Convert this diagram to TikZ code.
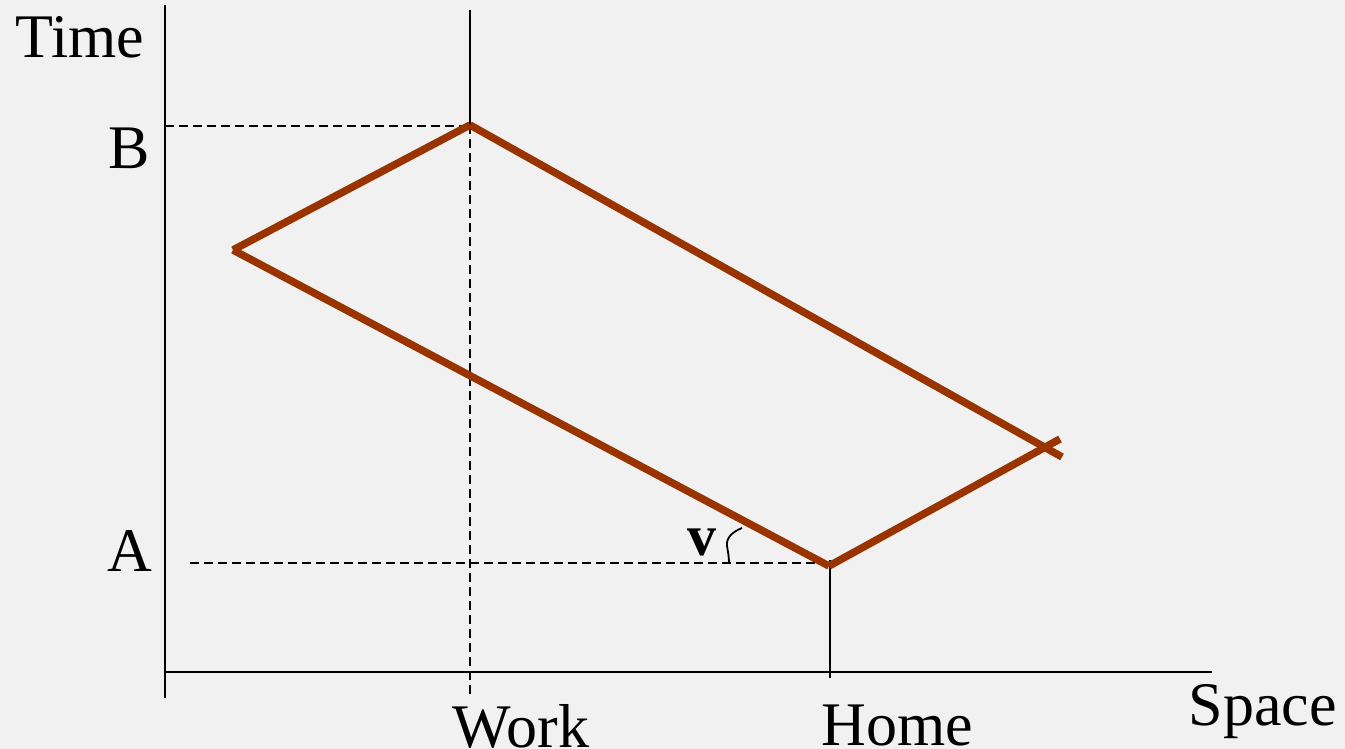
\documentclass[tikz,border=0pt]{standalone}
\usepackage{fontspec}
\setmainfont{Liberation Serif}
\definecolor{bg}{RGB}{241,241,241}
\definecolor{brn}{RGB}{153,51,0}
\begin{document}
\begin{tikzpicture}[x=1pt,y=-1pt,
  axis/.style={line width=2pt,black},
  dashln/.style={line width=2pt,black,dash pattern=on 9pt off 5pt},
  path/.style={line width=7.5pt,brn},
  lbl/.style={font=\fontsize{62}{64}\selectfont,inner sep=0pt,anchor=base}]
\fill[bg] (0,0) rectangle (1345,749);
\useasboundingbox (0,0) rectangle (1345,749);
% coordinates
\coordinate (ytop) at (165,5);
\coordinate (ybot) at (165,698);
\coordinate (xl) at (165,672);
\coordinate (xr) at (1212,672);
\coordinate (wtop) at (470,10);
\coordinate (B) at (470,125);
\coordinate (wbot) at (470,697);
\coordinate (Bl) at (165,126);
\coordinate (Bw) at (470,126);
\coordinate (Al) at (190,563);
\coordinate (Ah) at (830,563);
\coordinate (htop) at (830,560);
\coordinate (hbot) at (830,678);
\coordinate (L) at (233,250);
\coordinate (A) at (829,566);
\coordinate (R1) at (1062,457);
\coordinate (R2) at (1060,439);
\coordinate (m1) at (742,528);
\coordinate (m2) at (729,563);
% axes
\draw[axis] (ytop) -- (ybot);
\draw[axis] (xl) -- (xr);
\draw[axis] (wtop) -- (B);
\draw[dashln] (B) -- (wbot);
\draw[dashln] (Bl) -- (Bw);
\draw[dashln] (Al) -- (Ah);
\draw[axis] (htop) -- (hbot);
% path
\draw[path] (B) -- (R1);
\draw[path] (L) -- (A);
\draw[path] (L) -- (B);
\draw[path] (A) -- (R2);
% angle mark
\draw[line width=1.8pt] (m1) .. controls (732,532) and (726,538) .. (727,546) .. controls (728,552) and (729,557) .. (m2);
% labels
\node[lbl] (time) at (80,58) {Time};
\node[lbl] (bl) at (129,169) {B};
\node[lbl] (al) at (130,571) {A};
\node[lbl] (work) at (521,747) {Work};
\node[lbl] (home) at (897,745) {Home};
\node[lbl] (space) at (1263,725) {Space};
\node[lbl,font=\fontsize{58}{60}\selectfont\bfseries] (v) at (702,555) {v};
\end{tikzpicture}
\end{document}
